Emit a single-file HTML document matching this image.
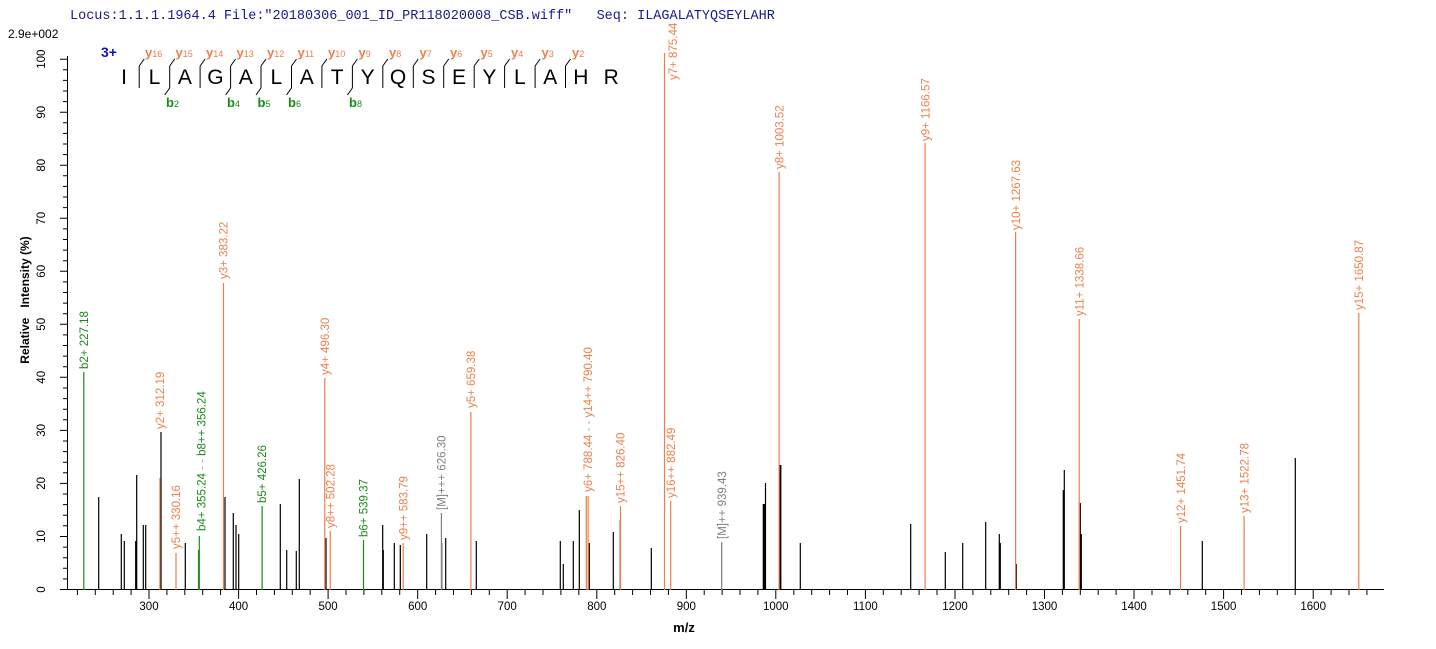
<!DOCTYPE html>
<html><head><meta charset="utf-8"><style>
html,body{margin:0;padding:0;background:#fff;}
svg{display:block;font-family:"Liberation Sans",Arial,sans-serif;}
.o{fill:#ee7f4b;font-size:11.5px}
.g{fill:#1a8a1a;font-size:11.5px}
.gr{fill:#808080;font-size:11.5px}
</style></head><body>
<svg width="1436" height="649" viewBox="0 0 1436 649" xmlns="http://www.w3.org/2000/svg">
<text x="70" y="19" font-family="Liberation Mono, monospace" font-size="13.5" fill="#1a1a8c" xml:space="preserve">Locus:1.1.1.1964.4 File:"20180306_001_ID_PR118020008_CSB.wiff"   Seq: ILAGALATYQSEYLAHR</text>
<text x="8" y="38" font-size="12" fill="#000">2.9e+002</text>

<g stroke="#000" stroke-width="1" fill="none">
<line x1="67.5" y1="56" x2="67.5" y2="590"/>
<line x1="67" y1="589.5" x2="1384" y2="589.5"/>
<path d="M60 589.5H67M63 578.9H67M63 568.3H67M63 557.7H67M63 547.1H67M60 536.5H67M63 525.8H67M63 515.2H67M63 504.6H67M63 494H67M60 483.4H67M63 472.8H67M63 462.2H67M63 451.6H67M63 441H67M60 430.4H67M63 419.8H67M63 409.2H67M63 398.6H67M63 388H67M60 377.3H67M63 366.7H67M63 356.1H67M63 345.5H67M63 334.9H67M60 324.3H67M63 313.7H67M63 303.1H67M63 292.5H67M63 281.9H67M60 271.3H67M63 260.7H67M63 250.1H67M63 239.5H67M63 228.9H67M60 218.3H67M63 207.6H67M63 197H67M63 186.4H67M63 175.8H67M60 165.2H67M63 154.6H67M63 144H67M63 133.4H67M63 122.8H67M60 112.2H67M63 101.6H67M63 91H67M63 80.4H67M63 69.8H67M60 59.2H67"/>
<path d="M77.4 590v5M95.3 590v5M113.2 590v5M131.1 590v5M149 590v9M166.9 590v5M184.8 590v5M202.7 590v5M220.6 590v5M238.6 590v9M256.5 590v5M274.4 590v5M292.3 590v5M310.2 590v5M328.1 590v9M346 590v5M363.9 590v5M381.8 590v5M399.7 590v5M417.7 590v9M435.6 590v5M453.5 590v5M471.4 590v5M489.3 590v5M507.2 590v9M525.1 590v5M543 590v5M560.9 590v5M578.8 590v5M596.8 590v9M614.7 590v5M632.6 590v5M650.5 590v5M668.4 590v5M686.3 590v9M704.2 590v5M722.1 590v5M740 590v5M757.9 590v5M775.8 590v9M793.8 590v5M811.7 590v5M829.6 590v5M847.5 590v5M865.4 590v9M883.3 590v5M901.2 590v5M919.1 590v5M937 590v5M955 590v9M972.9 590v5M990.8 590v5M1008.7 590v5M1026.6 590v5M1044.5 590v9M1062.4 590v5M1080.3 590v5M1098.2 590v5M1116.1 590v5M1134 590v9M1152 590v5M1169.9 590v5M1187.8 590v5M1205.7 590v5M1223.6 590v9M1241.5 590v5M1259.4 590v5M1277.3 590v5M1295.2 590v5M1313.2 590v9M1331.1 590v5M1349 590v5M1366.9 590v5"/>
</g>
<g font-size="11.5" fill="#000" text-anchor="middle">
<text x="149" y="610">300</text><text x="238.6" y="610">400</text><text x="328.1" y="610">500</text><text x="417.7" y="610">600</text><text x="507.2" y="610">700</text><text x="596.8" y="610">800</text><text x="686.3" y="610">900</text><text x="775.8" y="610">1000</text><text x="865.4" y="610">1100</text><text x="955" y="610">1200</text><text x="1044.5" y="610">1300</text><text x="1134" y="610">1400</text><text x="1223.6" y="610">1500</text><text x="1313.2" y="610">1600</text>
</g>
<g font-size="11.5" fill="#000" text-anchor="middle">
<text transform="translate(45,589.5) rotate(-90)">0</text>
<text transform="translate(45,536.5) rotate(-90)">10</text>
<text transform="translate(45,483.4) rotate(-90)">20</text>
<text transform="translate(45,430.4) rotate(-90)">30</text>
<text transform="translate(45,377.3) rotate(-90)">40</text>
<text transform="translate(45,324.3) rotate(-90)">50</text>
<text transform="translate(45,271.3) rotate(-90)">60</text>
<text transform="translate(45,218.3) rotate(-90)">70</text>
<text transform="translate(45,165.2) rotate(-90)">80</text>
<text transform="translate(45,112.2) rotate(-90)">90</text>
<text transform="translate(45,59.2) rotate(-90)">100</text>
</g>
<text transform="translate(29,300) rotate(-90)" font-size="12" font-weight="bold" text-anchor="middle" xml:space="preserve">Relative   Intensity (%)</text>
<text x="684" y="632" font-size="13" font-weight="bold" text-anchor="middle">m/z</text>

<path stroke="#000" stroke-width="1.2" fill="none" d="M98.7 590V497M121.3 590V534M124.3 590V541M135.7 590V541M136.7 590V475M143.3 590V525M145.7 590V525M161 590V432M185.3 590V543M225 590V497M233.3 590V513M236 590V525M238.7 590V534M280.3 590V504M286.7 590V550M296.3 590V551M299.3 590V479M326 590V538M382.7 590V525M383.3 590V550M394.3 590V543M400.3 590V545M426.7 590V534M441.7 590V543M445.7 590V538M476.3 590V541M560.3 590V541M563.3 590V564M573.3 590V541M579.3 590V510M589.3 590V543M613.3 590V532M620.3 590V520M651.3 590V548M763.3 590V504M764.5 590V504M765.5 590V483M780 590V465M780.8 590V465M800.3 590V543M910.7 590V524M945.3 590V552M962.7 590V543M985.7 590V522M999.3 590V534M1000.3 590V543M1016.3 590V564M1063.3 590V490M1064.3 590V470M1080.3 590V503M1081.3 590V534M1202.3 590V541M1295.3 590V458"/>

<path stroke="#ee7f4b" stroke-width="1.2" fill="none" d="M159.9 590V478M176 590V553M223.5 590V283M324.8 590V378M330.2 590V531M403.2 590V543M470.9 590V412M586.3 590V496M588.1 590V496M620.5 590V506M664.5 590V53M670.7 590V501M779.1 590V172M925.1 590V143M1015.6 590V232M1079.2 590V319M1180.5 590V526M1244.1 590V516M1358.8 590V313"/>
<path stroke="#1a8a1a" stroke-width="1.2" fill="none" d="M83.8 590V372M198.5 590V550M199.3 590V536M262.1 590V506M363.5 590V540"/>
<path stroke="#808080" stroke-width="1.2" fill="none" d="M441.4 590V513M721.7 590V542"/>

<text class="g" transform="translate(88,369) rotate(-90)">b2+ 227.18</text>
<text class="o" transform="translate(164,429) rotate(-90)">y2+ 312.19</text>
<text class="o" transform="translate(180,549) rotate(-90)">y5++ 330.16</text>
<text class="g" transform="translate(205.5,531) rotate(-90)">b4+ 355.24 <tspan fill="#aaa">- -</tspan> b8++ 356.24</text>
<text class="o" transform="translate(227.5,279) rotate(-90)">y3+ 383.22</text>
<text class="g" transform="translate(266,503) rotate(-90)">b5+ 426.26</text>
<text class="o" transform="translate(329,375) rotate(-90)">y4+ 496.30</text>
<text class="o" transform="translate(334.5,528) rotate(-90)">y8++ 502.28</text>
<text class="g" transform="translate(367.5,537) rotate(-90)">b6+ 539.37</text>
<text class="o" transform="translate(407.5,540) rotate(-90)">y9++ 583.79</text>
<text class="gr" transform="translate(445.5,510) rotate(-90)">[M]+++ 626.30</text>
<text class="o" transform="translate(475,408) rotate(-90)">y5+ 659.38</text>
<text class="o" transform="translate(592,492) rotate(-90)">y6+ 788.44 <tspan fill="#aaa">- -</tspan> y14++ 790.40</text>
<text class="o" transform="translate(624.5,503) rotate(-90)">y15++ 826.40</text>
<text class="o" transform="translate(677,80) rotate(-90)">y7+ 875.44</text>
<text class="o" transform="translate(675,498) rotate(-90)">y16++ 882.49</text>
<text class="gr" transform="translate(726,539) rotate(-90)">[M]++ 939.43</text>
<text class="o" transform="translate(783.5,169) rotate(-90)">y8+ 1003.52</text>
<text class="o" transform="translate(929.5,141) rotate(-90)">y9+ 1166.57</text>
<text class="o" transform="translate(1020,230) rotate(-90)">y10+ 1267.63</text>
<text class="o" transform="translate(1083.5,316) rotate(-90)">y11+ 1338.66</text>
<text class="o" transform="translate(1185,523) rotate(-90)">y12+ 1451.74</text>
<text class="o" transform="translate(1248.5,513) rotate(-90)">y13+ 1522.78</text>
<text class="o" transform="translate(1363,310) rotate(-90)">y15+ 1650.87</text>

<text x="101" y="57" font-size="14" font-weight="bold" fill="#1010c8">3+</text>
<g font-size="21" fill="#000" text-anchor="middle">
<text x="124" y="84">I</text><text x="154.5" y="84">L</text><text x="184.9" y="84">A</text><text x="215.4" y="84">G</text><text x="245.8" y="84">A</text><text x="276.3" y="84">L</text><text x="306.7" y="84">A</text><text x="337.2" y="84">T</text><text x="367.6" y="84">Y</text><text x="398.1" y="84">Q</text><text x="428.5" y="84">S</text><text x="459" y="84">E</text><text x="489.4" y="84">Y</text><text x="519.9" y="84">L</text><text x="550.3" y="84">A</text><text x="580.8" y="84">H</text><text x="611.2" y="84">R</text>
</g>
<path stroke="#000" stroke-width="1" fill="none" d="M139.2 66V88M139.2 66L144.2 59M169.7 66V88M169.7 66L174.7 59M200.1 66V88M200.1 66L205.1 59M230.6 66V88M230.6 66L235.6 59M261 66V88M261 66L266 59M291.5 66V88M291.5 66L296.5 59M321.9 66V88M321.9 66L326.9 59M352.4 66V88M352.4 66L357.4 59M382.8 66V88M382.8 66L387.8 59M413.3 66V88M413.3 66L418.3 59M443.7 66V88M443.7 66L448.7 59M474.2 66V88M474.2 66L479.2 59M504.6 66V88M504.6 66L509.6 59M535.1 66V88M535.1 66L540.1 59M565.5 66V88M565.5 66L570.5 59M169.7 88L164.7 95M230.6 88L225.6 95M261 88L256 95M291.5 88L286.5 95M352.4 88L347.4 95"/>
<g fill="#ee7f4b" font-weight="bold" font-size="13">
<text x="145" y="57">y<tspan font-size="9" font-weight="normal">16</tspan></text>
<text x="175.5" y="57">y<tspan font-size="9" font-weight="normal">15</tspan></text>
<text x="206" y="57">y<tspan font-size="9" font-weight="normal">14</tspan></text>
<text x="236.5" y="57">y<tspan font-size="9" font-weight="normal">13</tspan></text>
<text x="267" y="57">y<tspan font-size="9" font-weight="normal">12</tspan></text>
<text x="297.5" y="57">y<tspan font-size="9" font-weight="normal">11</tspan></text>
<text x="328" y="57">y<tspan font-size="9" font-weight="normal">10</tspan></text>
<text x="358.5" y="57">y<tspan font-size="9" font-weight="normal">9</tspan></text>
<text x="389" y="57">y<tspan font-size="9" font-weight="normal">8</tspan></text>
<text x="419.5" y="57">y<tspan font-size="9" font-weight="normal">7</tspan></text>
<text x="450" y="57">y<tspan font-size="9" font-weight="normal">6</tspan></text>
<text x="480.5" y="57">y<tspan font-size="9" font-weight="normal">5</tspan></text>
<text x="511" y="57">y<tspan font-size="9" font-weight="normal">4</tspan></text>
<text x="541.5" y="57">y<tspan font-size="9" font-weight="normal">3</tspan></text>
<text x="572" y="57">y<tspan font-size="9" font-weight="normal">2</tspan></text>
</g>
<g fill="#1a8a1a" font-weight="bold" font-size="13">
<text x="166" y="107">b<tspan font-size="9" font-weight="normal">2</tspan></text>
<text x="227" y="107">b<tspan font-size="9" font-weight="normal">4</tspan></text>
<text x="257.5" y="107">b<tspan font-size="9" font-weight="normal">5</tspan></text>
<text x="288" y="107">b<tspan font-size="9" font-weight="normal">6</tspan></text>
<text x="349" y="107">b<tspan font-size="9" font-weight="normal">8</tspan></text>
</g>
</svg>
</body></html>
